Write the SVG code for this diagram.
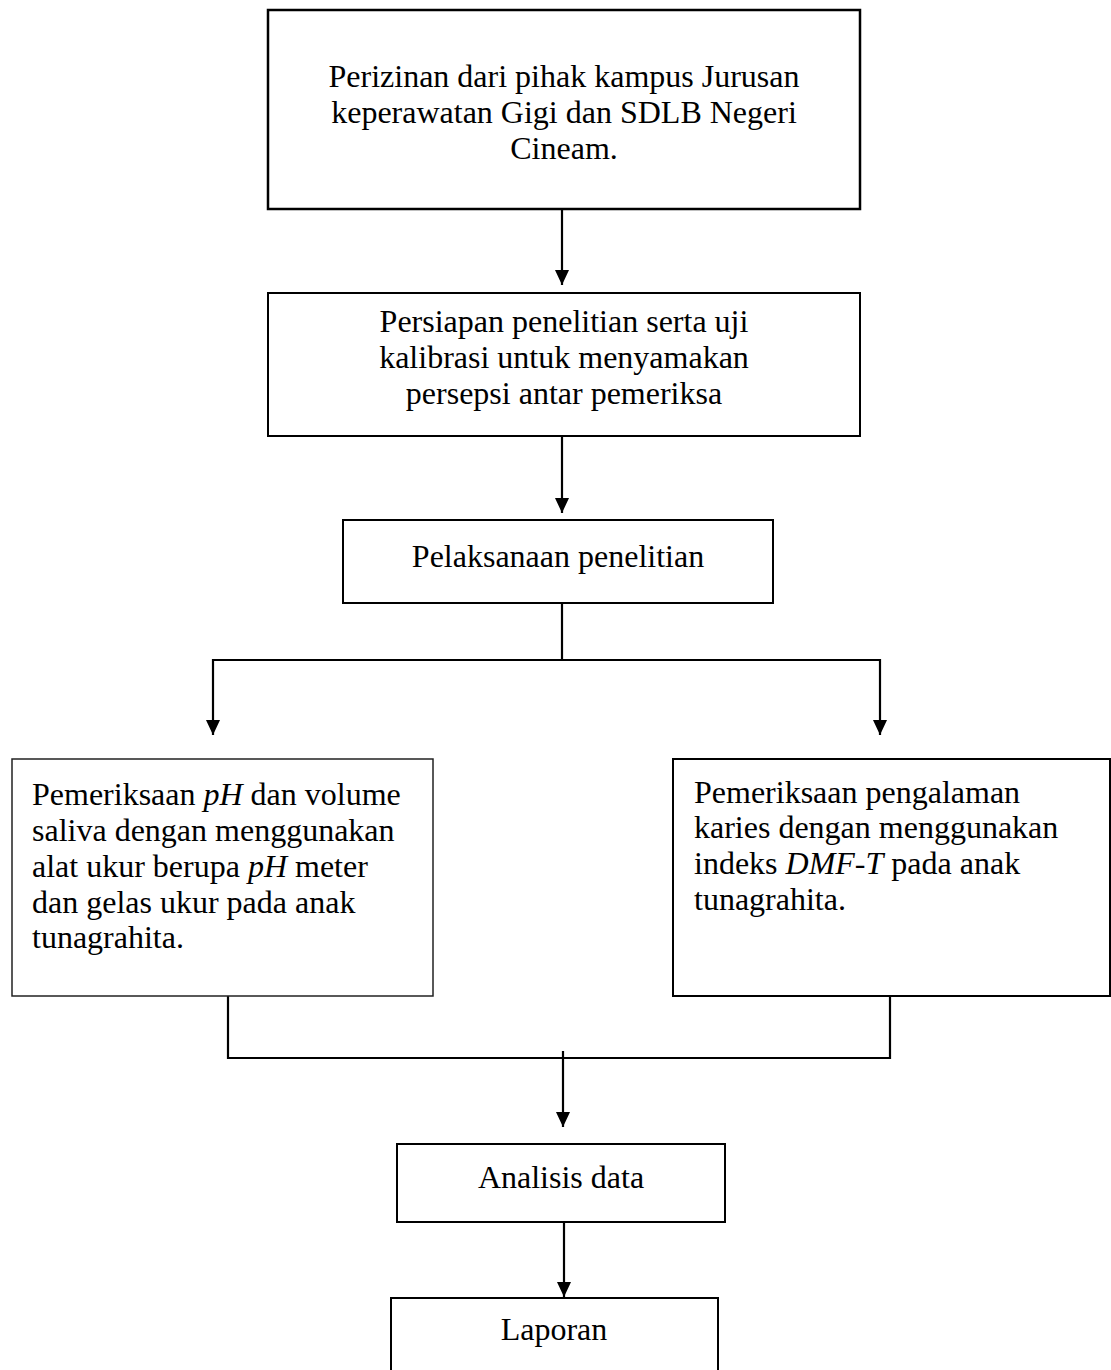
<svg xmlns="http://www.w3.org/2000/svg" width="1111" height="1370" viewBox="0 0 1111 1370">
<defs>
<style>
.box{fill:#fff;stroke:#000;stroke-width:2}
.thin{fill:#fff;stroke:#222;stroke-width:1.5}
.t{font-family:"Liberation Serif","Times New Roman",serif;font-size:32px;fill:#000}
.c{text-anchor:middle}
.ln{fill:none;stroke:#000;stroke-width:2.2}
.i{font-style:italic}
</style>
<marker id="ah" markerUnits="userSpaceOnUse" markerWidth="14" markerHeight="16" refX="7" refY="15" orient="auto" viewBox="0 0 14 16">
<path d="M0,0 L14,0 L7,15 Z" fill="#000" transform="rotate(-90 7 8) translate(0 0)"/>
</marker>
<marker id="arr" markerUnits="userSpaceOnUse" markerWidth="16" markerHeight="14" refX="15" refY="7" orient="auto" viewBox="0 0 16 14">
<path d="M0,0 L15,7 L0,14 Z" fill="#000"/>
</marker>
</defs>
<rect width="1111" height="1370" fill="#fff"/>
<g id="connectors">
<line class="ln" x1="562" y1="209" x2="562" y2="285" marker-end="url(#arr)"/>
<line class="ln" x1="562" y1="436" x2="562" y2="513" marker-end="url(#arr)"/>
<line class="ln" x1="562" y1="603" x2="562" y2="661"/>
<line class="ln" x1="213" y1="660" x2="881" y2="660"/>
<line class="ln" x1="213" y1="659" x2="213" y2="735" marker-end="url(#arr)"/>
<line class="ln" x1="880" y1="659" x2="880" y2="735" marker-end="url(#arr)"/>
<polyline class="ln" points="228,993 228,1058 890,1058 890,996"/>
<line class="ln" x1="563" y1="1051" x2="563" y2="1127" marker-end="url(#arr)"/>
<line class="ln" x1="564" y1="1222" x2="564" y2="1297" marker-end="url(#arr)"/>
</g>
<g id="n1">
<rect class="box" x="268" y="10" width="592" height="199" style="stroke-width:2.5"/>
<text class="t c" x="564" y="87">Perizinan dari pihak kampus Jurusan</text>
<text class="t c" x="564" y="123">keperawatan Gigi dan SDLB Negeri</text>
<text class="t c" x="564" y="159">Cineam.</text>
</g>
<g id="n2">
<rect class="box" x="268" y="293" width="592" height="143"/>
<text class="t c" x="564" y="332">Persiapan penelitian serta uji</text>
<text class="t c" x="564" y="368">kalibrasi untuk menyamakan</text>
<text class="t c" x="564" y="404">persepsi antar pemeriksa</text>
</g>
<g id="n3">
<rect class="box" x="343" y="520" width="430" height="83"/>
<text class="t c" x="558" y="567">Pelaksanaan penelitian</text>
</g>
<g id="n4">
<rect class="thin" x="12" y="759" width="421" height="237"/>
<text class="t" x="32" y="805">Pemeriksaan <tspan class="i">pH</tspan> dan volume</text>
<text class="t" x="32" y="841">saliva dengan menggunakan</text>
<text class="t" x="32" y="877">alat ukur berupa <tspan class="i">pH</tspan> meter</text>
<text class="t" x="32" y="913">dan gelas ukur pada anak</text>
<text class="t" x="32" y="948">tunagrahita.</text>
</g>
<g id="n5">
<rect class="box" x="673" y="759" width="437" height="237"/>
<text class="t" x="694" y="803">Pemeriksaan pengalaman</text>
<text class="t" x="694" y="838">karies dengan menggunakan</text>
<text class="t" x="694" y="874">indeks <tspan class="i">DMF-T</tspan> pada anak</text>
<text class="t" x="694" y="910">tunagrahita.</text>
</g>
<g id="n6">
<rect class="box" x="397" y="1144" width="328" height="78"/>
<text class="t c" x="561" y="1188">Analisis data</text>
</g>
<g id="n7">
<rect class="box" x="391" y="1298" width="327" height="90"/>
<text class="t c" x="554" y="1340">Laporan</text>
</g>
</svg>
